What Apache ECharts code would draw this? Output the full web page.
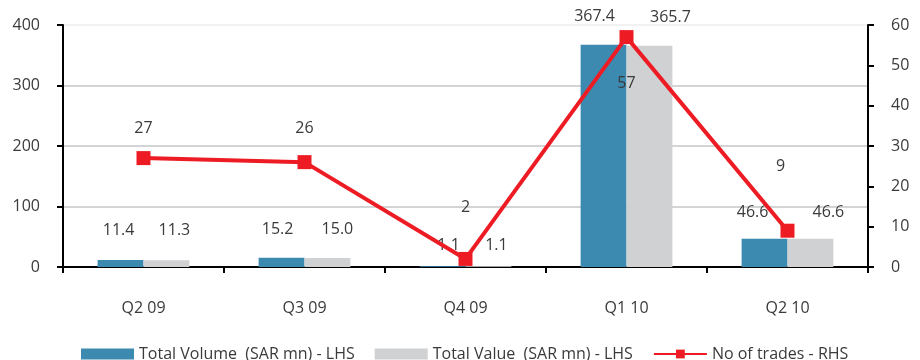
<!DOCTYPE html>
<html>
<head>
<meta charset="utf-8">
<script src="https://cdn.jsdelivr.net/npm/echarts@6/dist/echarts.min.js"></script>
<style>
  html, body { margin: 0; padding: 0; background: #fff; }
  #chart { width: 920px; height: 360px; }
</style>
</head>
<body>
<div id="chart"></div>
<script>
// Quarterly volume / value (SAR mn, left axis) and number of trades (right axis)
const quarters = ['Q2 09', 'Q3 09', 'Q4 09', 'Q1 10', 'Q2 10'];
const totalVolume = [11.4, 15.2, 1.1, 367.4, 46.6];
const totalValue = [11.3, 15.0, 1.1, 365.7, 46.6];
const numTrades = [27, 26, 2, 57, 9];
const leftTicks = { min: 0, max: 400, interval: 100 };
const rightTicks = { min: 0, max: 60, interval: 10 };

const FONT = '"Open Sans", sans-serif';
const TEXT = '#3a3a3a';
const FS = 16;

// label nudges so neighbouring value labels don't collide
const volumeLabelDx = [-2, -4, 6, -9, -12];
const valueLabelDx = [8, 10, 8, 21, 18];
const barLabelDistance = [22, 20, 13, 20, 18];
const tradeLabelPlacement = [
  { position: 'top', distance: 15 },
  { position: 'top', distance: 19 },
  { position: 'top', distance: 36 },
  { position: 'bottom', distance: 31 },
  { position: 'top', distance: 49, offset: [-7, 0] }
];

const chart = echarts.init(document.getElementById('chart'), null, { renderer: 'canvas' });

function barData(values, dx) {
  return values.map((v, i) => ({
    value: v,
    label: { offset: [dx[i], 0], distance: barLabelDistance[i] }
  }));
}

const barLabel = {
  show: true,
  position: 'top',
  color: TEXT,
  fontFamily: FONT,
  fontSize: FS,
  formatter: p => p.value.toFixed(1)
};

chart.setOption({
  animation: false,
  textStyle: { fontFamily: FONT },
  grid: { left: 63, right: 52, top: 25, bottom: 93, containLabel: false },
  legend: {
    top: 341,
    left: 76,
    itemGap: 20,
    itemWidth: 53,
    itemHeight: 11,
    textStyle: { color: TEXT, fontFamily: FONT, fontSize: FS },
    data: [
      { name: 'Total Volume  (SAR mn) - LHS', icon: 'rect' },
      { name: 'Total Value  (SAR mn) - LHS', icon: 'rect' },
      { name: 'No of trades - RHS' }
    ]
  },
  xAxis: {
    type: 'category',
    data: quarters,
    boundaryGap: true,
    axisLine: { lineStyle: { color: '#000', width: 2 } },
    axisTick: { show: true, length: 6, lineStyle: { color: '#000', width: 2 } },
    axisLabel: { color: TEXT, fontFamily: FONT, fontSize: FS, margin: 33 }
  },
  yAxis: [
    {
      type: 'value',
      min: leftTicks.min, max: leftTicks.max, interval: leftTicks.interval,
      axisLine: { show: true, lineStyle: { color: '#000', width: 2 } },
      axisTick: { show: true, length: 6, lineStyle: { color: '#000', width: 2 } },
      axisLabel: { color: TEXT, fontFamily: FONT, fontSize: FS, margin: 23 },
      splitLine: {
        show: true,
        lineStyle: { color: ['#c6c6c6', '#c6c6c6', '#c6c6c6', '#c6c6c6', '#ececec'], width: 1.5 }
      }
    },
    {
      type: 'value',
      position: 'right',
      min: rightTicks.min, max: rightTicks.max, interval: rightTicks.interval,
      axisLine: { show: true, lineStyle: { color: '#000', width: 2 } },
      axisTick: { show: true, length: 6, lineStyle: { color: '#000', width: 2 } },
      axisLabel: { color: TEXT, fontFamily: FONT, fontSize: FS, margin: 23 },
      splitLine: { show: false }
    }
  ],
  series: [
    {
      name: 'Total Volume  (SAR mn) - LHS',
      type: 'bar',
      yAxisIndex: 0,
      data: barData(totalVolume, volumeLabelDx),
      barGap: '0%',
      barCategoryGap: '43%',
      itemStyle: { color: '#3d8ab0' },
      label: barLabel
    },
    {
      name: 'Total Value  (SAR mn) - LHS',
      type: 'bar',
      yAxisIndex: 0,
      data: barData(totalValue, valueLabelDx),
      barGap: '0%',
      barCategoryGap: '43%',
      itemStyle: { color: '#d0d1d3' },
      label: barLabel
    },
    {
      name: 'No of trades - RHS',
      type: 'line',
      yAxisIndex: 1,
      data: numTrades.map((v, i) => ({ value: v, label: tradeLabelPlacement[i] })),
      symbol: 'rect',
      symbolSize: 14,
      lineStyle: { color: '#ed1c24', width: 4 },
      itemStyle: { color: '#ed1c24' },
      label: {
        show: true,
        color: TEXT,
        fontFamily: FONT,
        fontSize: FS
      },
      z: 5
    }
  ]
});
</script>
</body>
</html>
